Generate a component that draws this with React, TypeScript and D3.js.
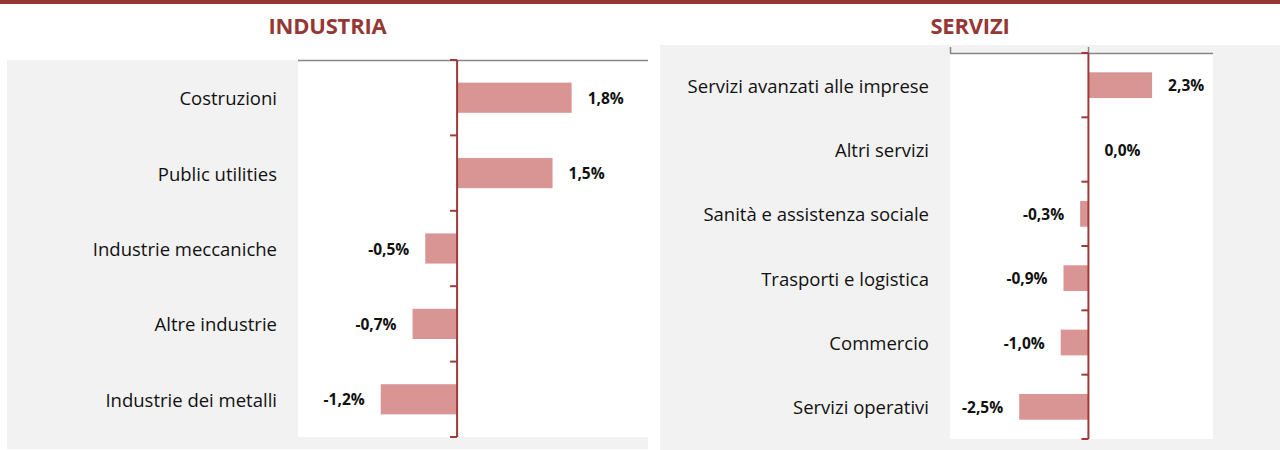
import * as d3 from "d3";

// variazioni percentuali per settore
const industriaCategorie = [
  "Costruzioni",
  "Public utilities",
  "Industrie meccaniche",
  "Altre industrie",
  "Industrie dei metalli",
];
const industriaValori = [1.8, 1.5, -0.5, -0.7, -1.2];

const serviziCategorie = [
  "Servizi avanzati alle imprese",
  "Altri servizi",
  "Sanità e assistenza sociale",
  "Trasporti e logistica",
  "Commercio",
  "Servizi operativi",
];
const serviziValori = [2.3, 0.0, -0.3, -0.9, -1.0, -2.5];

const titoli = ["INDUSTRIA", "SERVIZI"];

const W = 1280;
const H = 450;
const FONT = "'Open Sans', Lato, sans-serif";
const RED = "#953735";
const AXIS_RED = "#9e3a3a";
const BAR = "#d99594";
const PANEL = "#f2f2f2";

const fmt = (v: number) => `${v.toFixed(1).replace(".", ",")}%`;

type PanelProps = {
  title: string;
  cats: string[];
  values: number[];
  panel: { x: number; y: number; w: number; h: number };
  plot: { x0: number; x1: number; y0: number; y1: number };
  domain: [number, number];
  topTicks: number[];
  titleY: number;
};

function BarPanel({ title, cats, values, panel, plot, domain, topTicks, titleY }: PanelProps) {
  const x = d3.scaleLinear().domain(domain).range([plot.x0, plot.x1]);
  const y = d3
    .scaleBand<string>()
    .domain(cats)
    .range([plot.y0, plot.y1])
    .paddingInner(0.6)
    .paddingOuter(0.3);
  const x0 = x(0);
  const boundaries = d3.range(cats.length + 1).map((i) => plot.y0 + i * ((plot.y1 - plot.y0) / cats.length));

  return (
    <g>
      <text
        x={panel.x + panel.w / 2}
        y={titleY}
        textAnchor="middle"
        fontFamily={FONT}
        fontWeight="bold"
        fontSize={22}
        letterSpacing={-0.2}
        fill={RED}
      >
        {title}
      </text>
      <rect x={panel.x} y={panel.y} width={panel.w} height={panel.h} fill={PANEL} />
      <rect x={plot.x0} y={plot.y0} width={plot.x1 - plot.x0} height={plot.y1 - plot.y0} fill="#fff" />
      {/* asse dei valori in alto */}
      <line x1={plot.x0} x2={plot.x1} y1={plot.y0 + 0.5} y2={plot.y0 + 0.5} stroke="#868686" strokeWidth={1.5} />
      {topTicks.map((t) => (
        <line
          key={t}
          x1={Math.round(x(t)) + 0.5}
          x2={Math.round(x(t)) + 0.5}
          y1={plot.y0}
          y2={plot.y0 - 6}
          stroke="#868686"
          strokeWidth={1.5}
        />
      ))}
      {values.map((v, i) => {
        const c = cats[i];
        const yy = y(c) as number;
        const bx = Math.min(x(v), x0);
        const bw = Math.abs(x(v) - x0);
        const cy = yy + y.bandwidth() / 2;
        const lx = v >= 0 ? x(v) + 16 : x(v) - 16;
        return (
          <g key={c}>
            <rect x={bx} y={yy} width={bw} height={y.bandwidth()} fill={BAR} />
            <text
              x={plot.x0 - 21}
              y={cy}
              textAnchor="end"
              dominantBaseline="central"
              fontFamily={FONT}
              fontSize={18.5}
              fill="#111"
            >
              {c}
            </text>
            <text
              x={lx}
              y={cy}
              textAnchor={v >= 0 ? "start" : "end"}
              dominantBaseline="central"
              fontFamily={FONT}
              fontWeight="bold"
              fontSize={15.5}
              fill="#111"
            >
              {fmt(v)}
            </text>
          </g>
        );
      })}
      {/* asse delle categorie sullo zero */}
      <line x1={x0} x2={x0} y1={plot.y0} y2={plot.y1} stroke={AXIS_RED} strokeWidth={2} />
      {boundaries.map((b, i) => (
        <line key={i} x1={x0 - 7} x2={x0} y1={b} y2={b} stroke={AXIS_RED} strokeWidth={2} />
      ))}
    </g>
  );
}

export default function App() {
  return (
    <div style={{ position: "absolute", left: 0, top: 0, width: W, height: H, background: "#fff" }}>
      <svg width={W} height={H} style={{ display: "block" }}>
        <rect x={0} y={0} width={W} height={4} fill={RED} />
        <BarPanel
          title={titoli[0]}
          cats={industriaCategorie}
          values={industriaValori}
          panel={{ x: 7, y: 60, w: 641, h: 389 }}
          plot={{ x0: 298, x1: 648, y0: 60, y1: 437 }}
          domain={[-2.5, 3]}
          topTicks={[]}
          titleY={34}
        />
        <BarPanel
          title={titoli[1]}
          cats={serviziCategorie}
          values={serviziValori}
          panel={{ x: 660, y: 45, w: 620, h: 405 }}
          plot={{ x0: 950, x1: 1213, y0: 53, y1: 439 }}
          domain={[-5, 4.5]}
          topTicks={[-5, 0]}
          titleY={34}
        />
      </svg>
    </div>
  );
}
